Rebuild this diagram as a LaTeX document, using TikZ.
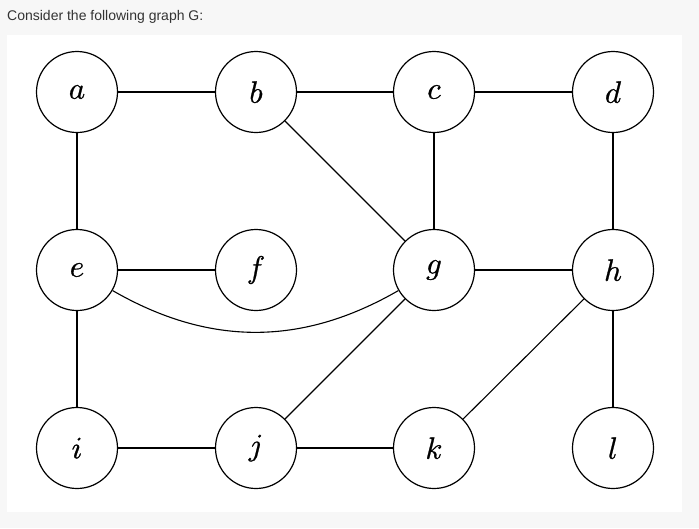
\documentclass[tikz,border=0pt]{standalone}
\usepackage{graphicx}
\usepackage{fontspec}
\newfontfamily\titlefont{Liberation Sans}
\definecolor{pagebg}{HTML}{F7F7F7}
\definecolor{titlegray}{HTML}{333333}
\newcommand{\vlabel}[1]{\special{pdf:literal direct 2 Tr 0.08 w}\scalebox{3.1}{$#1$}\special{pdf:literal direct 0 Tr}}
\tikzset{
  vtx/.style={circle, draw=black, line width=1.2pt, minimum size=81pt, inner sep=0pt, fill=white},
  edge/.style={draw=black, line width=1.1pt},
}
\begin{document}
\begin{tikzpicture}[x=1pt,y=-1pt]
\useasboundingbox (0,0) rectangle (699,528);
\fill[pagebg] (0,0) rectangle (699,528);
\fill[white] (7,35) rectangle (682,512);
\node[anchor=base west, inner sep=0pt, text=titlegray, font=\titlefont\fontsize{14}{16}\selectfont] (title) at (7,20) {Consider the following graph G:};
\node[vtx] (a) at (77,92) {\vlabel{a}};
\node[vtx] (b) at (256,92) {\vlabel{b}};
\node[vtx] (c) at (434,92) {\vlabel{c}};
\node[vtx] (d) at (613,92) {\vlabel{d}};
\node[vtx] (e) at (77,270) {\vlabel{e}};
\node[vtx] (f) at (256,270) {\vlabel{f}};
\node[vtx] (g) at (434,270) {\vlabel{g}};
\node[vtx] (h) at (613,270) {\vlabel{h}};
\node[vtx] (i) at (77,448) {\vlabel{i}};
\node[vtx] (j) at (256,448) {\vlabel{j}};
\node[vtx] (k) at (434,448) {\vlabel{k}};
\node[vtx] (l) at (613,448) {\vlabel{l}};
\draw[edge] (a) -- (b);
\draw[edge] (b) -- (c);
\draw[edge] (c) -- (d);
\draw[edge] (a) -- (e);
\draw[edge] (b) -- (g);
\draw[edge] (c) -- (g);
\draw[edge] (d) -- (h);
\draw[edge] (e) -- (f);
\draw[edge] (e) to[bend right=30] (g);
\draw[edge] (g) -- (h);
\draw[edge] (e) -- (i);
\draw[edge] (g) -- (j);
\draw[edge] (h) -- (k);
\draw[edge] (h) -- (l);
\draw[edge] (i) -- (j);
\draw[edge] (j) -- (k);
\end{tikzpicture}
\end{document}
